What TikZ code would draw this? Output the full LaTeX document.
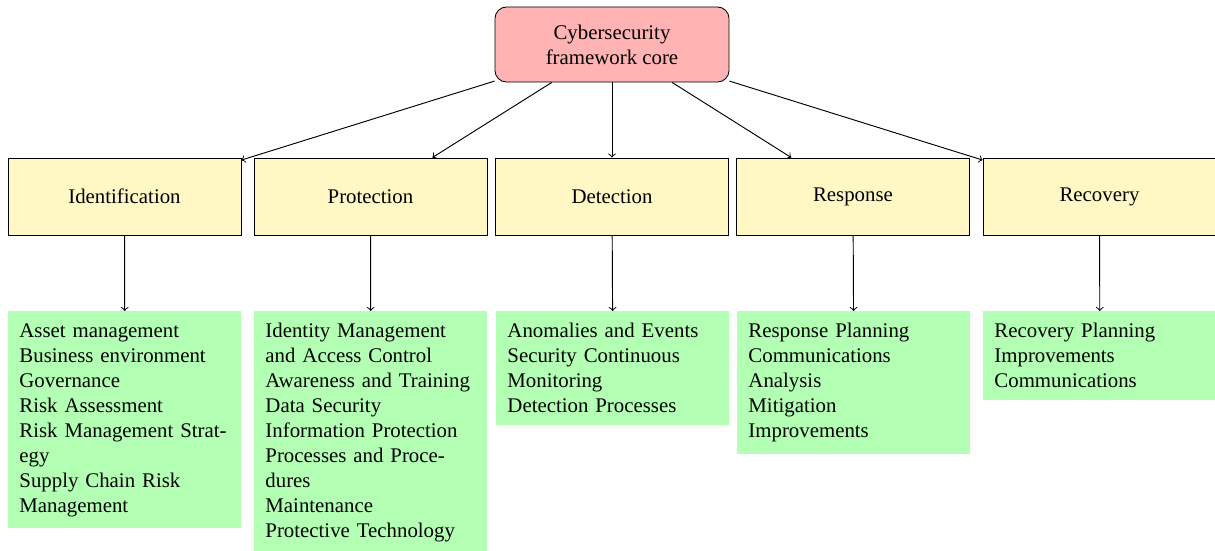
\documentclass[tikz,border=0pt]{standalone}
\usepackage{fontspec}
\setmainfont{Liberation Serif}
\definecolor{corepink}{RGB}{255,179,179}
\definecolor{funcyellow}{RGB}{255,248,196}
\definecolor{catgreen}{RGB}{179,255,179}
\begin{document}
\begin{tikzpicture}[x=0.48pt,y=-0.48pt,
  font=\fontsize{10}{12}\selectfont,
  core/.style={draw,rounded corners=5.5pt,fill=corepink,minimum width=112.3pt,minimum height=36pt,align=center,inner sep=2pt},
  func/.style={draw,fill=funcyellow,minimum width=111.8pt,minimum height=37pt},
  cat/.style={fill=catgreen,anchor=north west,text width=101.2pt,inner xsep=5.3pt,inner ysep=5.7pt,align=left},
  arr/.style={->,line width=0.45pt}]
\useasboundingbox (0,0) rectangle (1215,551);
\node[core] (core) at (612,44.5) {Cybersecurity\\framework core};
\node[func] (id) at (124.5,196.5) {Identification};
\node[func] (pr) at (370.5,196.5) {Protection};
\node[func] (de) at (612,196.5) {Detection};
\node[func] (rs) at (853,196.5) {Response};
\node[func] (rc) at (1099.5,196.5) {Recovery};
\node[cat] (cid) at (8,311) {Asset management\\Business environment\\Governance\\Risk Assessment\\Risk Management Strat-\\egy\\Supply Chain Risk\\Management};
\node[cat] (cpr) at (254,311) {Identity Management\\and Access Control\\Awareness and Training\\Data Security\\Information Protection\\Processes and Proce-\\dures\\Maintenance\\Protective Technology};
\node[cat] (cde) at (496,311) {Anomalies and Events\\Security Continuous\\Monitoring\\Detection Processes};
\node[cat] (crs) at (737,311) {Response Planning\\Communications\\Analysis\\Mitigation\\Improvements};
\node[cat] (crc) at (983,311) {Recovery Planning\\Improvements\\Communications};
\foreach \n in {id,pr,de,rs,rc}{\draw[arr] (core) -- (\n);}
\draw[arr] (id) -- (cid);
\draw[arr] (pr) -- (cpr);
\draw[arr] (de) -- (cde);
\draw[arr] (rs) -- (crs);
\draw[arr] (rc) -- (crc);
\end{tikzpicture}
\end{document}
